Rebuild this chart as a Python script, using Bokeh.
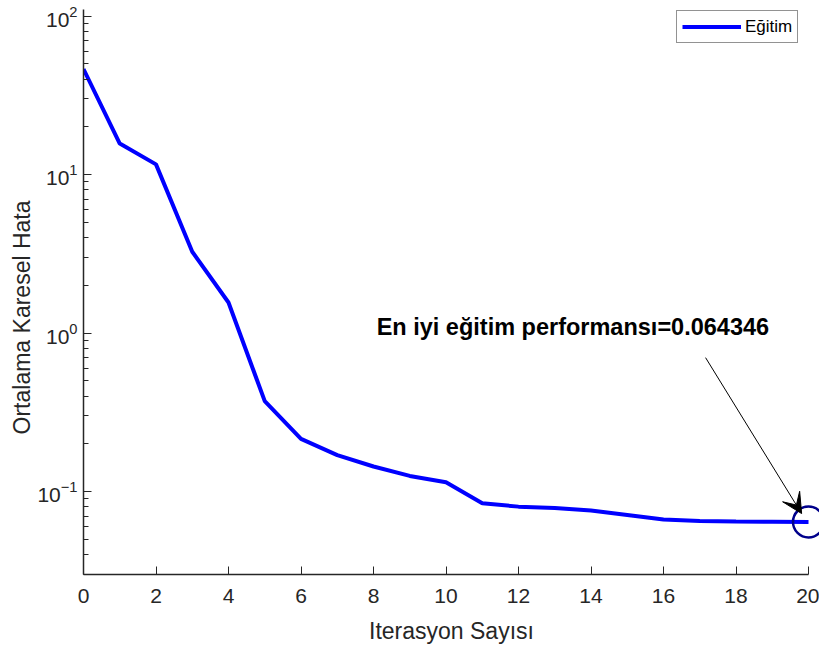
import numpy as np
from bokeh.plotting import figure
from bokeh.models import (Arrow, VeeHead, Label, Legend, LegendItem, LogTicker,
                          FixedTicker, Range1d, Title)
from bokeh.embed import file_html
from bokeh.resources import INLINE

# Training performance (mean squared error) per iteration
iterations = list(range(21))
mse_train = [46.3, 15.7, 11.6, 3.26, 1.56, 0.372, 0.215, 0.170, 0.144, 0.1256,
             0.1145, 0.0844, 0.0804, 0.0787, 0.0759, 0.0713, 0.0666, 0.0652,
             0.0647, 0.0645, 0.064346]
best_epoch = 20
best_perf = 0.064346
x_ticks = [0, 2, 4, 6, 8, 10, 12, 14, 16, 18, 20]

FONT = "Liberation Sans"
AX = "#262626"

p = figure(width=819, height=650, y_axis_type="log",
           x_range=Range1d(0, 20.303), y_range=Range1d(0.03, 110),
           output_backend="svg", toolbar_location=None,
           min_border_left=83, min_border_right=0,
           min_border_top=9, min_border_bottom=76)
p.outline_line_color = None
p.grid.visible = False
p.background_fill_color = "white"
p.border_fill_color = "white"

line = p.line(iterations, mse_train, line_color="#0000FF", line_width=4)
p.scatter([best_epoch], [best_perf], marker="circle", size=31,
          fill_color=None, line_color="#00008B", line_width=2.5)

# x axis
xa = p.xaxis[0]
xa.bounds = (0, 20)
xa.ticker = FixedTicker(ticks=x_ticks)
xa.axis_label = "Iterasyon Sayısı"

# y axis (log)
ya = p.yaxis[0]
ya.ticker = LogTicker(num_minor_ticks=10)

for ax in (xa, ya):
    ax.axis_line_color = AX
    ax.axis_line_width = 1.5
    ax.major_tick_line_color = AX
    ax.minor_tick_line_color = AX if ax is ya else None
    ax.major_tick_in = 8
    ax.major_tick_out = 0
    ax.minor_tick_in = 5
    ax.minor_tick_out = 0
    ax.major_label_text_font = FONT
    ax.major_label_text_font_size = "21px"
    ax.major_label_text_color = AX
    ax.axis_label_text_font = FONT
    ax.axis_label_text_font_size = "23px"
    ax.axis_label_text_font_style = "normal"
    ax.axis_label_text_color = AX

xa.major_label_standoff = 14
xa.axis_label_standoff = 12
ya.major_label_standoff = 6

# y axis title, placed on the left side panel
p.add_layout(Title(text="Ortalama Karesel Hata", align="right", offset=191,
                   text_font=FONT, text_font_size="23px",
                   text_font_style="normal", text_color=AX, standoff=0),
             "left")

# annotation for the best performance
p.add_layout(Label(x=13.5, y=1.1,
                   text=f"En iyi eğitim performansı={best_perf}",
                   text_align="center", text_baseline="middle",
                   text_font=FONT, text_font_size="23.5px",
                   text_font_style="bold", text_color="black"))
p.add_layout(Arrow(x_start=17.16, y_start=0.70,
                   x_end=best_epoch - 0.19, y_end=best_perf * 1.13,
                   line_color="black", line_width=1,
                   end=VeeHead(size=20, fill_color="black", line_color="black")))

legend = Legend(items=[LegendItem(label="Eğitim", renderers=[line])],
                location=(593, 531), orientation="vertical",
                label_text_font=FONT, label_text_font_size="17px",
                label_text_color="black", glyph_width=59, glyph_height=21,
                label_standoff=4, padding=5, spacing=0, margin=0,
                border_line_color=AX, border_line_width=1,
                background_fill_color="white", background_fill_alpha=1)
p.add_layout(legend)

open("out.html", "w").write(file_html(p, INLINE))
